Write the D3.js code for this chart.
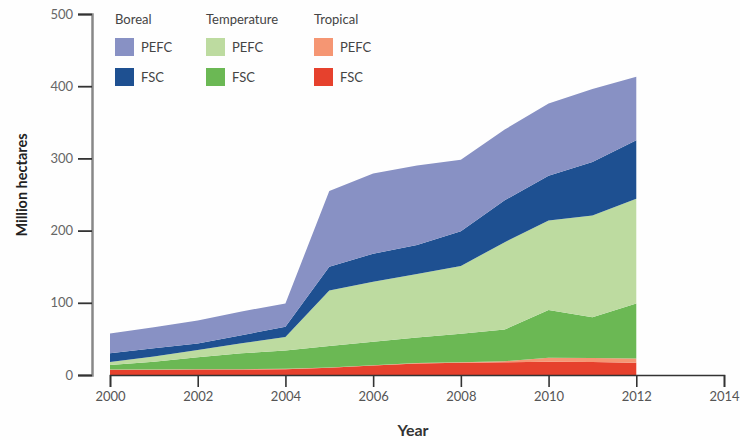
<!DOCTYPE html>
<html>
<head>
<meta charset="utf-8">
<script src="https://cdn.jsdelivr.net/npm/d3@7/dist/d3.min.js"></script>
<style>
  html, body { margin: 0; padding: 0; background: #fefefe; }
  svg { display: block; }
  text { font-family: Lato, "Open Sans", sans-serif; }
</style>
</head>
<body>
<svg id="chart" width="740" height="440"></svg>
<script>
// ---- data ----
const years = [2000, 2001, 2002, 2003, 2004, 2005, 2006, 2007, 2008, 2009, 2010, 2011, 2012];
const tropicalFSC   = [7, 7, 7.5, 7.5, 8, 10, 13, 16, 17, 17.5, 18.5, 18, 17];
const tropicalPEFC  = [0.5, 0.5, 0.5, 0.5, 0.5, 0.5, 0.5, 0.5, 0.5, 1.5, 5.5, 5.5, 6];
const temperateFSC  = [6.5, 11, 16.5, 22, 25.5, 29.5, 32.5, 35.5, 39.5, 44, 66, 56.5, 76];
const temperatePEFC = [4, 7, 10, 14, 18.5, 77, 83, 88, 94, 121, 124, 141, 145];
const borealFSC     = [12, 11.5, 9, 11, 14.5, 33, 39, 40, 48, 58, 62, 74, 81];
const borealPEFC    = [27.5, 29, 32, 33, 32, 105, 111, 110, 99, 98, 100, 101, 88];
const xTicks = [2000, 2002, 2004, 2006, 2008, 2010, 2012, 2014];
const yTicks = [0, 100, 200, 300, 400, 500];
const legendGroups = ["Boreal", "Temperature", "Tropical"];
const legendItems = ["PEFC", "FSC"];

const seriesKeys = ["tropicalFSC", "tropicalPEFC", "temperateFSC", "temperatePEFC", "borealFSC", "borealPEFC"];
const seriesData = { tropicalFSC, tropicalPEFC, temperateFSC, temperatePEFC, borealFSC, borealPEFC };
const colors = {
  tropicalFSC: "#e6412d", tropicalPEFC: "#f59673",
  temperateFSC: "#6bb854", temperatePEFC: "#bddba0",
  borealFSC: "#1e5091", borealPEFC: "#8891c4"
};

const rows = years.map((y, i) => {
  const r = { year: y };
  seriesKeys.forEach(k => r[k] = seriesData[k][i]);
  return r;
});

const svg = d3.select("#chart");
const x = d3.scaleLinear().domain([2000, 2014]).range([110, 724]);
const y = d3.scaleLinear().domain([0, 500]).range([375, 14]);

const stack = d3.stack().keys(seriesKeys);
const layers = stack(rows);
const area = d3.area()
  .x(d => x(d.data.year))
  .y0(d => y(d[0]))
  .y1(d => y(d[1]));

svg.append("g").selectAll("path").data(layers).join("path")
  .attr("d", area)
  .attr("fill", d => colors[d.key]);

// x axis
const xAxis = d3.axisBottom(x).tickValues(xTicks).tickFormat(d3.format("d")).tickSizeOuter(0).tickSize(12).tickPadding(5);
const gx = svg.append("g").attr("transform", "translate(0,375)").call(xAxis);
gx.select(".domain").attr("stroke", "#333").attr("stroke-width", 1.6);
gx.selectAll(".tick line").attr("stroke", "#333").attr("stroke-width", 1.6);
gx.selectAll(".tick text").attr("fill", "#555").attr("font-size", 13);

// y axis
const yAxis = d3.axisLeft(y).tickValues(yTicks).tickSizeOuter(0).tickSize(14).tickPadding(5);
const gy = svg.append("g").attr("transform", "translate(92,0)").call(yAxis);
gy.select(".domain").attr("stroke", "#888").attr("stroke-width", 2.5);
gy.selectAll(".tick line").attr("stroke", "#333").attr("stroke-width", 1.8);
gy.selectAll(".tick text").attr("fill", "#666").attr("font-size", 13);

// axis titles
svg.append("text").attr("x", 413).attr("y", 436).attr("text-anchor", "middle")
  .attr("font-weight", "bold").attr("font-size", 16).attr("fill", "#333").text("Year");
svg.append("text").attr("transform", "translate(27,185) rotate(-90)").attr("text-anchor", "middle")
  .attr("font-weight", "bold").attr("font-size", 14.5).attr("fill", "#222").text("Million hectares");

// legend
const legendX = [115, 206, 314];
const legendColorKeys = [["borealPEFC", "borealFSC"], ["temperatePEFC", "temperateFSC"], ["tropicalPEFC", "tropicalFSC"]];
legendGroups.forEach((g, gi) => {
  const lg = svg.append("g").attr("transform", `translate(${legendX[gi]},0)`);
  lg.append("text").attr("x", 0).attr("y", 24).attr("font-size", 13).attr("fill", "#444").text(g);
  legendItems.forEach((it, ii) => {
    lg.append("rect").attr("x", 0).attr("y", 38 + ii * 30).attr("width", 19).attr("height", 18)
      .attr("fill", colors[legendColorKeys[gi][ii]]);
    lg.append("text").attr("x", 26).attr("y", 52 + ii * 30).attr("font-size", 13).attr("fill", "#444").text(it);
  });
});
</script>
</body>
</html>
